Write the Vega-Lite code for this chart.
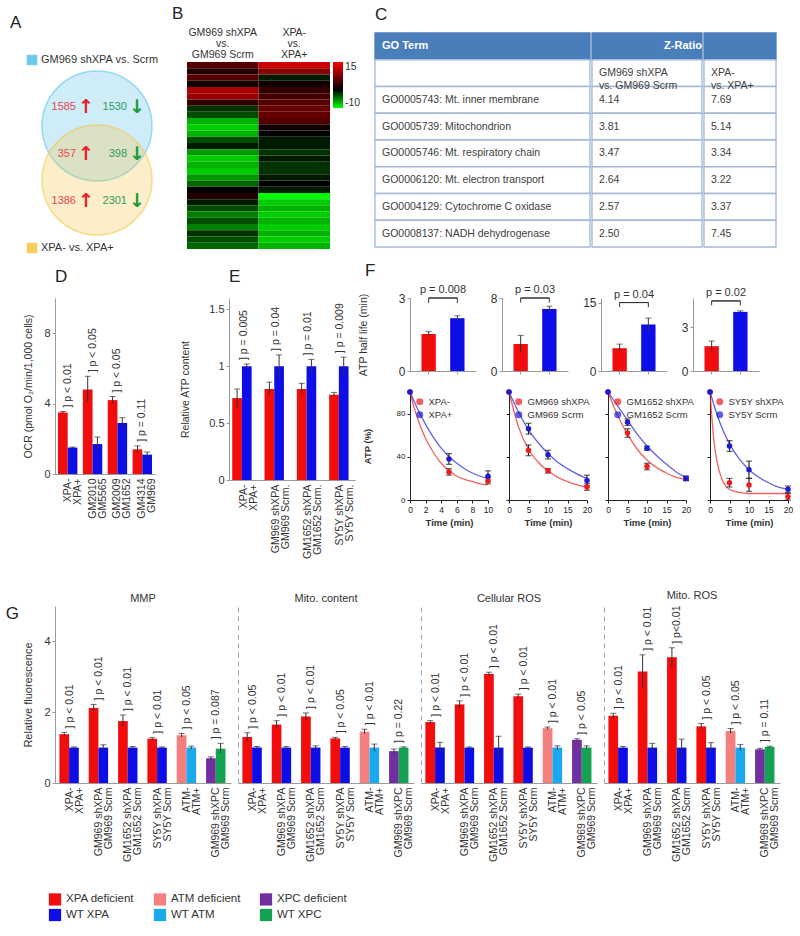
{
  "$schema": "https://vega.github.io/schema/vega-lite/v6.json",
  "background": "white",
  "padding": {"left": 5, "right": 5, "top": 5, "bottom": 5},
  "config": {
    "font": "Liberation Sans",
    "view": {"stroke": null},
    "axis": {"grid": false, "domainColor": "#9a9a9a", "tickColor": "#9a9a9a", "labelColor": "#333333", "titleColor": "#333333", "labelFontSize": 10, "titleFontSize": 10.5, "titleFontWeight": "normal", "tickSize": 3, "labelPadding": 2, "titlePadding": 4},
    "title": {"fontSize": 17, "fontWeight": "normal", "anchor": "start", "frame": "group", "color": "#222222", "offset": 4},
    "legend": {"labelColor": "#333333"},
    "text": {"color": "#333333"}
  },
  "datasets": {
    "venn": [
      {"kind": "circle", "set": "GM969 shXPA vs. Scrm"},
      {"kind": "circle", "set": "XPA- vs. XPA+"},
      {"kind": "key", "set": "GM969 shXPA vs. Scrm", "row": "key1"},
      {"kind": "key", "set": "XPA- vs. XPA+", "row": "key2"},
      {"kind": "count", "row": "GM969 shXPA only", "dir": "up", "n": 1585},
      {"kind": "count", "row": "GM969 shXPA only", "dir": "down", "n": 1530},
      {"kind": "count", "row": "Both", "dir": "up", "n": 357},
      {"kind": "count", "row": "Both", "dir": "down", "n": 398},
      {"kind": "count", "row": "XPA- only", "dir": "up", "n": 1386},
      {"kind": "count", "row": "XPA- only", "dir": "down", "n": 2301}
    ],
    "heat": [
      {"cmp": "GM969 shXPA|vs.|GM969 Scrm", "row": 1, "z": 5}, {"cmp": "GM969 shXPA|vs.|GM969 Scrm", "row": 2, "z": 2},
      {"cmp": "GM969 shXPA|vs.|GM969 Scrm", "row": 3, "z": 5}, {"cmp": "GM969 shXPA|vs.|GM969 Scrm", "row": 4, "z": 1},
      {"cmp": "GM969 shXPA|vs.|GM969 Scrm", "row": 5, "z": 10}, {"cmp": "GM969 shXPA|vs.|GM969 Scrm", "row": 6, "z": 9},
      {"cmp": "GM969 shXPA|vs.|GM969 Scrm", "row": 7, "z": 3}, {"cmp": "GM969 shXPA|vs.|GM969 Scrm", "row": 8, "z": -2},
      {"cmp": "GM969 shXPA|vs.|GM969 Scrm", "row": 9, "z": -3}, {"cmp": "GM969 shXPA|vs.|GM969 Scrm", "row": 10, "z": -7},
      {"cmp": "GM969 shXPA|vs.|GM969 Scrm", "row": 11, "z": -8}, {"cmp": "GM969 shXPA|vs.|GM969 Scrm", "row": 12, "z": -7},
      {"cmp": "GM969 shXPA|vs.|GM969 Scrm", "row": 13, "z": -3}, {"cmp": "GM969 shXPA|vs.|GM969 Scrm", "row": 14, "z": -1},
      {"cmp": "GM969 shXPA|vs.|GM969 Scrm", "row": 15, "z": -6}, {"cmp": "GM969 shXPA|vs.|GM969 Scrm", "row": 16, "z": -8},
      {"cmp": "GM969 shXPA|vs.|GM969 Scrm", "row": 17, "z": -7}, {"cmp": "GM969 shXPA|vs.|GM969 Scrm", "row": 18, "z": -8},
      {"cmp": "GM969 shXPA|vs.|GM969 Scrm", "row": 19, "z": -6}, {"cmp": "GM969 shXPA|vs.|GM969 Scrm", "row": 20, "z": -4},
      {"cmp": "GM969 shXPA|vs.|GM969 Scrm", "row": 21, "z": 0}, {"cmp": "GM969 shXPA|vs.|GM969 Scrm", "row": 22, "z": 2},
      {"cmp": "GM969 shXPA|vs.|GM969 Scrm", "row": 23, "z": -1}, {"cmp": "GM969 shXPA|vs.|GM969 Scrm", "row": 24, "z": -3},
      {"cmp": "GM969 shXPA|vs.|GM969 Scrm", "row": 25, "z": -5}, {"cmp": "GM969 shXPA|vs.|GM969 Scrm", "row": 26, "z": -3},
      {"cmp": "GM969 shXPA|vs.|GM969 Scrm", "row": 27, "z": -5}, {"cmp": "GM969 shXPA|vs.|GM969 Scrm", "row": 28, "z": -2},
      {"cmp": "GM969 shXPA|vs.|GM969 Scrm", "row": 29, "z": -3}, {"cmp": "GM969 shXPA|vs.|GM969 Scrm", "row": 30, "z": -4},
      {"cmp": "XPA-|vs.|XPA+", "row": 1, "z": 12}, {"cmp": "XPA-|vs.|XPA+", "row": 2, "z": 8},
      {"cmp": "XPA-|vs.|XPA+", "row": 3, "z": -1}, {"cmp": "XPA-|vs.|XPA+", "row": 4, "z": 1},
      {"cmp": "XPA-|vs.|XPA+", "row": 5, "z": 3}, {"cmp": "XPA-|vs.|XPA+", "row": 6, "z": 4},
      {"cmp": "XPA-|vs.|XPA+", "row": 7, "z": 5}, {"cmp": "XPA-|vs.|XPA+", "row": 8, "z": 6},
      {"cmp": "XPA-|vs.|XPA+", "row": 9, "z": 6}, {"cmp": "XPA-|vs.|XPA+", "row": 10, "z": 5},
      {"cmp": "XPA-|vs.|XPA+", "row": 11, "z": 1}, {"cmp": "XPA-|vs.|XPA+", "row": 12, "z": 0},
      {"cmp": "XPA-|vs.|XPA+", "row": 13, "z": -1}, {"cmp": "XPA-|vs.|XPA+", "row": 14, "z": -1},
      {"cmp": "XPA-|vs.|XPA+", "row": 15, "z": -2}, {"cmp": "XPA-|vs.|XPA+", "row": 16, "z": -1},
      {"cmp": "XPA-|vs.|XPA+", "row": 17, "z": -2}, {"cmp": "XPA-|vs.|XPA+", "row": 18, "z": -2},
      {"cmp": "XPA-|vs.|XPA+", "row": 19, "z": -1}, {"cmp": "XPA-|vs.|XPA+", "row": 20, "z": 0},
      {"cmp": "XPA-|vs.|XPA+", "row": 21, "z": -1}, {"cmp": "XPA-|vs.|XPA+", "row": 22, "z": -10},
      {"cmp": "XPA-|vs.|XPA+", "row": 23, "z": -8}, {"cmp": "XPA-|vs.|XPA+", "row": 24, "z": -7},
      {"cmp": "XPA-|vs.|XPA+", "row": 25, "z": -8}, {"cmp": "XPA-|vs.|XPA+", "row": 26, "z": -7},
      {"cmp": "XPA-|vs.|XPA+", "row": 27, "z": -8}, {"cmp": "XPA-|vs.|XPA+", "row": 28, "z": -7},
      {"cmp": "XPA-|vs.|XPA+", "row": 29, "z": -8}, {"cmp": "XPA-|vs.|XPA+", "row": 30, "z": -7}
    ],
    "tbl": [
      {"col": "c1", "row": "r0", "text": "GO Term"},
      {"col": "c1", "row": "r1", "text": ""},
      {"col": "c1", "row": "r2", "text": "GO0005743: Mt. inner membrane"},
      {"col": "c1", "row": "r3", "text": "GO0005739: Mitochondrion"},
      {"col": "c1", "row": "r4", "text": "GO0005746: Mt. respiratory chain"},
      {"col": "c1", "row": "r5", "text": "GO0006120: Mt. electron transport"},
      {"col": "c1", "row": "r6", "text": "GO0004129: Cytochrome C oxidase"},
      {"col": "c1", "row": "r7", "text": "GO0008137: NADH dehydrogenase"},
      {"col": "c2", "row": "r0", "text": "Z-Ratio"},
      {"col": "c2", "row": "r1", "text": "GM969 shXPA|vs. GM969 Scrm"},
      {"col": "c2", "row": "r2", "text": "4.14"},
      {"col": "c2", "row": "r3", "text": "3.81"},
      {"col": "c2", "row": "r4", "text": "3.47"},
      {"col": "c2", "row": "r5", "text": "2.64"},
      {"col": "c2", "row": "r6", "text": "2.57"},
      {"col": "c2", "row": "r7", "text": "2.50"},
      {"col": "c3", "row": "r0", "text": ""},
      {"col": "c3", "row": "r1", "text": "XPA-|vs. XPA+"},
      {"col": "c3", "row": "r2", "text": "7.69"},
      {"col": "c3", "row": "r3", "text": "5.14"},
      {"col": "c3", "row": "r4", "text": "3.34"},
      {"col": "c3", "row": "r5", "text": "3.22"},
      {"col": "c3", "row": "r6", "text": "3.37"},
      {"col": "c3", "row": "r7", "text": "7.45"}
    ],
    "d": [
      {"pair": "XPA-|XPA+", "m": "a", "status": "XPA deficient", "v": 3.5, "lo": 3.45, "hi": 3.55, "p": "]  p < 0.01"},
      {"pair": "XPA-|XPA+", "m": "b", "status": "WT XPA", "v": 1.5, "lo": 1.47, "hi": 1.53, "p": "]  p < 0.01"},
      {"pair": "GM2010|GM5565", "m": "a", "status": "XPA deficient", "v": 4.8, "lo": 4.1, "hi": 5.55, "p": "]  p < 0.05"},
      {"pair": "GM2010|GM5565", "m": "b", "status": "WT XPA", "v": 1.7, "lo": 1.35, "hi": 2.1, "p": "]  p < 0.05"},
      {"pair": "GM2009|GM1652", "m": "a", "status": "XPA deficient", "v": 4.2, "lo": 4.0, "hi": 4.4, "p": "]  p < 0.05"},
      {"pair": "GM2009|GM1652", "m": "b", "status": "WT XPA", "v": 2.9, "lo": 2.6, "hi": 3.2, "p": "]  p < 0.05"},
      {"pair": "GM4314|GM969", "m": "a", "status": "XPA deficient", "v": 1.4, "lo": 1.2, "hi": 1.6, "p": "]  p = 0.11"},
      {"pair": "GM4314|GM969", "m": "b", "status": "WT XPA", "v": 1.1, "lo": 0.95, "hi": 1.25, "p": "]  p = 0.11"}
    ],
    "e": [
      {"pair": "XPA-|XPA+", "m": "a", "status": "XPA deficient", "v": 0.72, "lo": 0.64, "hi": 0.8, "p": "]  p = 0.005"},
      {"pair": "XPA-|XPA+", "m": "b", "status": "WT XPA", "v": 1.0, "lo": 0.98, "hi": 1.02, "p": "]  p = 0.005"},
      {"pair": "GM969 shXPA|GM969 Scrm.", "m": "a", "status": "XPA deficient", "v": 0.8, "lo": 0.75, "hi": 0.86, "p": "]  p = 0.04"},
      {"pair": "GM969 shXPA|GM969 Scrm.", "m": "b", "status": "WT XPA", "v": 1.0, "lo": 0.9, "hi": 1.1, "p": "]  p = 0.04"},
      {"pair": "GM1652 shXPA|GM1652 Scrm.", "m": "a", "status": "XPA deficient", "v": 0.8, "lo": 0.76, "hi": 0.85, "p": "]  p = 0.01"},
      {"pair": "GM1652 shXPA|GM1652 Scrm.", "m": "b", "status": "WT XPA", "v": 1.0, "lo": 0.94, "hi": 1.06, "p": "]  p = 0.01"},
      {"pair": "SY5Y shXPA|SY5Y Scrm.", "m": "a", "status": "XPA deficient", "v": 0.75, "lo": 0.73, "hi": 0.77, "p": "]  p = 0.009"},
      {"pair": "SY5Y shXPA|SY5Y Scrm.", "m": "b", "status": "WT XPA", "v": 1.0, "lo": 0.92, "hi": 1.08, "p": "]  p = 0.009"}
    ],
    "fb": [
      {"chart": "c1", "m": "a", "status": "XPA deficient", "v": 1.52, "lo": 1.42, "hi": 1.62, "p": "p = 0.008"},
      {"chart": "c1", "m": "b", "status": "WT XPA", "v": 2.17, "lo": 2.07, "hi": 2.27, "p": "p = 0.008"},
      {"chart": "c2", "m": "a", "status": "XPA deficient", "v": 2.95, "lo": 2.05, "hi": 3.9, "p": "p = 0.03"},
      {"chart": "c2", "m": "b", "status": "WT XPA", "v": 6.8, "lo": 6.5, "hi": 7.1, "p": "p = 0.03"},
      {"chart": "c3", "m": "a", "status": "XPA deficient", "v": 5.0, "lo": 4.2, "hi": 5.9, "p": "p = 0.04"},
      {"chart": "c3", "m": "b", "status": "WT XPA", "v": 10.2, "lo": 8.8, "hi": 11.6, "p": "p = 0.04"},
      {"chart": "c4", "m": "a", "status": "XPA deficient", "v": 1.7, "lo": 1.35, "hi": 2.05, "p": "p = 0.02"},
      {"chart": "c4", "m": "b", "status": "WT XPA", "v": 4.05, "lo": 3.98, "hi": 4.12, "p": "p = 0.02"}
    ],
    "fl": [
      {"chart": "c1", "kind": "pt", "cond": "XPA-", "t": 0, "v": 100},
      {"chart": "c1", "kind": "pt", "cond": "XPA-", "t": 5, "v": 26, "lo": 23, "hi": 29},
      {"chart": "c1", "kind": "pt", "cond": "XPA-", "t": 10, "v": 18, "lo": 15, "hi": 21},
      {"chart": "c1", "kind": "pt", "cond": "XPA+", "t": 0, "v": 100},
      {"chart": "c1", "kind": "pt", "cond": "XPA+", "t": 5, "v": 38, "lo": 33, "hi": 43},
      {"chart": "c1", "kind": "pt", "cond": "XPA+", "t": 10, "v": 22, "lo": 17, "hi": 27},
      {"chart": "c1", "kind": "curve", "cond": "XPA-", "t": 0, "v": 100},
      {"chart": "c1", "kind": "curve", "cond": "XPA-", "t": 0.5, "v": 86},
      {"chart": "c1", "kind": "curve", "cond": "XPA-", "t": 1, "v": 75},
      {"chart": "c1", "kind": "curve", "cond": "XPA-", "t": 1.5, "v": 65},
      {"chart": "c1", "kind": "curve", "cond": "XPA-", "t": 2, "v": 57},
      {"chart": "c1", "kind": "curve", "cond": "XPA-", "t": 3, "v": 44},
      {"chart": "c1", "kind": "curve", "cond": "XPA-", "t": 4, "v": 34},
      {"chart": "c1", "kind": "curve", "cond": "XPA-", "t": 5, "v": 27},
      {"chart": "c1", "kind": "curve", "cond": "XPA-", "t": 6, "v": 22},
      {"chart": "c1", "kind": "curve", "cond": "XPA-", "t": 7, "v": 19},
      {"chart": "c1", "kind": "curve", "cond": "XPA-", "t": 8, "v": 17},
      {"chart": "c1", "kind": "curve", "cond": "XPA-", "t": 9, "v": 15},
      {"chart": "c1", "kind": "curve", "cond": "XPA-", "t": 10, "v": 14},
      {"chart": "c1", "kind": "curve", "cond": "XPA+", "t": 0, "v": 100},
      {"chart": "c1", "kind": "curve", "cond": "XPA+", "t": 1, "v": 84},
      {"chart": "c1", "kind": "curve", "cond": "XPA+", "t": 2, "v": 70},
      {"chart": "c1", "kind": "curve", "cond": "XPA+", "t": 3, "v": 58},
      {"chart": "c1", "kind": "curve", "cond": "XPA+", "t": 4, "v": 48},
      {"chart": "c1", "kind": "curve", "cond": "XPA+", "t": 5, "v": 40},
      {"chart": "c1", "kind": "curve", "cond": "XPA+", "t": 6, "v": 34},
      {"chart": "c1", "kind": "curve", "cond": "XPA+", "t": 7, "v": 29},
      {"chart": "c1", "kind": "curve", "cond": "XPA+", "t": 8, "v": 25},
      {"chart": "c1", "kind": "curve", "cond": "XPA+", "t": 9, "v": 22},
      {"chart": "c1", "kind": "curve", "cond": "XPA+", "t": 10, "v": 20},
      {"chart": "c2", "kind": "pt", "cond": "GM969 shXPA", "t": 0, "v": 100},
      {"chart": "c2", "kind": "pt", "cond": "GM969 shXPA", "t": 5, "v": 46, "lo": 41, "hi": 51},
      {"chart": "c2", "kind": "pt", "cond": "GM969 shXPA", "t": 10, "v": 27, "lo": 25, "hi": 29},
      {"chart": "c2", "kind": "pt", "cond": "GM969 shXPA", "t": 20, "v": 12, "lo": 9, "hi": 15},
      {"chart": "c2", "kind": "pt", "cond": "GM969 Scrm", "t": 0, "v": 100},
      {"chart": "c2", "kind": "pt", "cond": "GM969 Scrm", "t": 5, "v": 66, "lo": 61, "hi": 71},
      {"chart": "c2", "kind": "pt", "cond": "GM969 Scrm", "t": 10, "v": 42, "lo": 38, "hi": 46},
      {"chart": "c2", "kind": "pt", "cond": "GM969 Scrm", "t": 20, "v": 18, "lo": 13, "hi": 23},
      {"chart": "c2", "kind": "curve", "cond": "GM969 shXPA", "t": 0, "v": 100},
      {"chart": "c2", "kind": "curve", "cond": "GM969 shXPA", "t": 2.5, "v": 67},
      {"chart": "c2", "kind": "curve", "cond": "GM969 shXPA", "t": 5, "v": 47},
      {"chart": "c2", "kind": "curve", "cond": "GM969 shXPA", "t": 7.5, "v": 35},
      {"chart": "c2", "kind": "curve", "cond": "GM969 shXPA", "t": 10, "v": 27},
      {"chart": "c2", "kind": "curve", "cond": "GM969 shXPA", "t": 12.5, "v": 21},
      {"chart": "c2", "kind": "curve", "cond": "GM969 shXPA", "t": 15, "v": 17},
      {"chart": "c2", "kind": "curve", "cond": "GM969 shXPA", "t": 17.5, "v": 14},
      {"chart": "c2", "kind": "curve", "cond": "GM969 shXPA", "t": 20, "v": 12},
      {"chart": "c2", "kind": "curve", "cond": "GM969 Scrm", "t": 0, "v": 100},
      {"chart": "c2", "kind": "curve", "cond": "GM969 Scrm", "t": 2.5, "v": 81},
      {"chart": "c2", "kind": "curve", "cond": "GM969 Scrm", "t": 5, "v": 65},
      {"chart": "c2", "kind": "curve", "cond": "GM969 Scrm", "t": 7.5, "v": 53},
      {"chart": "c2", "kind": "curve", "cond": "GM969 Scrm", "t": 10, "v": 43},
      {"chart": "c2", "kind": "curve", "cond": "GM969 Scrm", "t": 12.5, "v": 35},
      {"chart": "c2", "kind": "curve", "cond": "GM969 Scrm", "t": 15, "v": 29},
      {"chart": "c2", "kind": "curve", "cond": "GM969 Scrm", "t": 17.5, "v": 24},
      {"chart": "c2", "kind": "curve", "cond": "GM969 Scrm", "t": 20, "v": 20},
      {"chart": "c3", "kind": "pt", "cond": "GM1652 shXPA", "t": 0, "v": 100},
      {"chart": "c3", "kind": "pt", "cond": "GM1652 shXPA", "t": 5, "v": 62, "lo": 58, "hi": 66},
      {"chart": "c3", "kind": "pt", "cond": "GM1652 shXPA", "t": 10, "v": 31, "lo": 28, "hi": 34},
      {"chart": "c3", "kind": "pt", "cond": "GM1652 shXPA", "t": 20, "v": 20, "lo": 18, "hi": 22},
      {"chart": "c3", "kind": "pt", "cond": "GM1652 Scrm", "t": 0, "v": 100},
      {"chart": "c3", "kind": "pt", "cond": "GM1652 Scrm", "t": 5, "v": 72, "lo": 69, "hi": 75},
      {"chart": "c3", "kind": "pt", "cond": "GM1652 Scrm", "t": 10, "v": 48, "lo": 46, "hi": 50},
      {"chart": "c3", "kind": "pt", "cond": "GM1652 Scrm", "t": 20, "v": 20, "lo": 18, "hi": 22},
      {"chart": "c3", "kind": "curve", "cond": "GM1652 shXPA", "t": 0, "v": 100},
      {"chart": "c3", "kind": "curve", "cond": "GM1652 shXPA", "t": 2.5, "v": 78},
      {"chart": "c3", "kind": "curve", "cond": "GM1652 shXPA", "t": 5, "v": 61},
      {"chart": "c3", "kind": "curve", "cond": "GM1652 shXPA", "t": 7.5, "v": 47},
      {"chart": "c3", "kind": "curve", "cond": "GM1652 shXPA", "t": 10, "v": 37},
      {"chart": "c3", "kind": "curve", "cond": "GM1652 shXPA", "t": 12.5, "v": 30},
      {"chart": "c3", "kind": "curve", "cond": "GM1652 shXPA", "t": 15, "v": 25},
      {"chart": "c3", "kind": "curve", "cond": "GM1652 shXPA", "t": 17.5, "v": 21},
      {"chart": "c3", "kind": "curve", "cond": "GM1652 shXPA", "t": 20, "v": 19},
      {"chart": "c3", "kind": "curve", "cond": "GM1652 Scrm", "t": 0, "v": 100},
      {"chart": "c3", "kind": "curve", "cond": "GM1652 Scrm", "t": 2.5, "v": 87},
      {"chart": "c3", "kind": "curve", "cond": "GM1652 Scrm", "t": 5, "v": 74},
      {"chart": "c3", "kind": "curve", "cond": "GM1652 Scrm", "t": 7.5, "v": 61},
      {"chart": "c3", "kind": "curve", "cond": "GM1652 Scrm", "t": 10, "v": 50},
      {"chart": "c3", "kind": "curve", "cond": "GM1652 Scrm", "t": 12.5, "v": 41},
      {"chart": "c3", "kind": "curve", "cond": "GM1652 Scrm", "t": 15, "v": 33},
      {"chart": "c3", "kind": "curve", "cond": "GM1652 Scrm", "t": 17.5, "v": 26},
      {"chart": "c3", "kind": "curve", "cond": "GM1652 Scrm", "t": 20, "v": 21},
      {"chart": "c4", "kind": "pt", "cond": "SY5Y shXPA", "t": 0, "v": 100},
      {"chart": "c4", "kind": "pt", "cond": "SY5Y shXPA", "t": 5, "v": 16, "lo": 12, "hi": 20},
      {"chart": "c4", "kind": "pt", "cond": "SY5Y shXPA", "t": 10, "v": 14, "lo": 8, "hi": 20},
      {"chart": "c4", "kind": "pt", "cond": "SY5Y shXPA", "t": 20, "v": 3, "lo": 0, "hi": 6},
      {"chart": "c4", "kind": "pt", "cond": "SY5Y Scrm", "t": 0, "v": 100},
      {"chart": "c4", "kind": "pt", "cond": "SY5Y Scrm", "t": 5, "v": 50, "lo": 45, "hi": 55},
      {"chart": "c4", "kind": "pt", "cond": "SY5Y Scrm", "t": 10, "v": 28, "lo": 20, "hi": 36},
      {"chart": "c4", "kind": "pt", "cond": "SY5Y Scrm", "t": 20, "v": 10, "lo": 7, "hi": 13},
      {"chart": "c4", "kind": "curve", "cond": "SY5Y shXPA", "t": 0, "v": 100},
      {"chart": "c4", "kind": "curve", "cond": "SY5Y shXPA", "t": 1, "v": 55},
      {"chart": "c4", "kind": "curve", "cond": "SY5Y shXPA", "t": 2, "v": 32},
      {"chart": "c4", "kind": "curve", "cond": "SY5Y shXPA", "t": 3, "v": 20},
      {"chart": "c4", "kind": "curve", "cond": "SY5Y shXPA", "t": 4, "v": 13},
      {"chart": "c4", "kind": "curve", "cond": "SY5Y shXPA", "t": 5, "v": 10},
      {"chart": "c4", "kind": "curve", "cond": "SY5Y shXPA", "t": 7.5, "v": 7},
      {"chart": "c4", "kind": "curve", "cond": "SY5Y shXPA", "t": 10, "v": 6},
      {"chart": "c4", "kind": "curve", "cond": "SY5Y shXPA", "t": 15, "v": 6},
      {"chart": "c4", "kind": "curve", "cond": "SY5Y shXPA", "t": 20, "v": 6},
      {"chart": "c4", "kind": "curve", "cond": "SY5Y Scrm", "t": 0, "v": 100},
      {"chart": "c4", "kind": "curve", "cond": "SY5Y Scrm", "t": 2.5, "v": 72},
      {"chart": "c4", "kind": "curve", "cond": "SY5Y Scrm", "t": 5, "v": 52},
      {"chart": "c4", "kind": "curve", "cond": "SY5Y Scrm", "t": 7.5, "v": 38},
      {"chart": "c4", "kind": "curve", "cond": "SY5Y Scrm", "t": 10, "v": 28},
      {"chart": "c4", "kind": "curve", "cond": "SY5Y Scrm", "t": 12.5, "v": 21},
      {"chart": "c4", "kind": "curve", "cond": "SY5Y Scrm", "t": 15, "v": 16},
      {"chart": "c4", "kind": "curve", "cond": "SY5Y Scrm", "t": 17.5, "v": 12},
      {"chart": "c4", "kind": "curve", "cond": "SY5Y Scrm", "t": 20, "v": 10}
    ],
    "g": [
      {"assay": "MMP", "pair": "XPA-|XPA+", "m": "a", "status": "XPA deficient", "v": 1.38, "lo": 1.33, "hi": 1.43, "p": "]  p < 0.01"},
      {"assay": "MMP", "pair": "XPA-|XPA+", "m": "b", "status": "WT XPA", "v": 1.0, "lo": 0.98, "hi": 1.02, "p": "]  p < 0.01"},
      {"assay": "MMP", "pair": "GM969 shXPA|GM969 Scrm", "m": "a", "status": "XPA deficient", "v": 2.12, "lo": 2.02, "hi": 2.22, "p": "]  p < 0.01"},
      {"assay": "MMP", "pair": "GM969 shXPA|GM969 Scrm", "m": "b", "status": "WT XPA", "v": 1.0, "lo": 0.92, "hi": 1.08, "p": "]  p < 0.01"},
      {"assay": "MMP", "pair": "GM1652 shXPA|GM1652 Scrm", "m": "a", "status": "XPA deficient", "v": 1.75, "lo": 1.6, "hi": 1.92, "p": "]  p < 0.01"},
      {"assay": "MMP", "pair": "GM1652 shXPA|GM1652 Scrm", "m": "b", "status": "WT XPA", "v": 1.0, "lo": 0.97, "hi": 1.03, "p": "]  p < 0.01"},
      {"assay": "MMP", "pair": "SY5Y shXPA|SY5Y Scrm", "m": "a", "status": "XPA deficient", "v": 1.25, "lo": 1.22, "hi": 1.28, "p": "]  p < 0.01"},
      {"assay": "MMP", "pair": "SY5Y shXPA|SY5Y Scrm", "m": "b", "status": "WT XPA", "v": 1.0, "lo": 0.98, "hi": 1.02, "p": "]  p < 0.01"},
      {"assay": "MMP", "pair": "ATM-|ATM+", "m": "a", "status": "ATM deficient", "v": 1.35, "lo": 1.3, "hi": 1.4, "p": "]  p < 0.05"},
      {"assay": "MMP", "pair": "ATM-|ATM+", "m": "b", "status": "WT ATM", "v": 1.0, "lo": 0.96, "hi": 1.04, "p": "]  p < 0.05"},
      {"assay": "MMP", "pair": "GM969 shXPC|GM969 Scrm", "m": "a", "status": "XPC deficient", "v": 0.7, "lo": 0.66, "hi": 0.74, "p": "]  p = 0.087"},
      {"assay": "MMP", "pair": "GM969 shXPC|GM969 Scrm", "m": "b", "status": "WT XPC", "v": 0.97, "lo": 0.85, "hi": 1.12, "p": "]  p = 0.087"},
      {"assay": "Mito. content", "pair": "XPA-|XPA+", "m": "a", "status": "XPA deficient", "v": 1.3, "lo": 1.18, "hi": 1.42, "p": "]  p < 0.05"},
      {"assay": "Mito. content", "pair": "XPA-|XPA+", "m": "b", "status": "WT XPA", "v": 1.0, "lo": 0.97, "hi": 1.03, "p": "]  p < 0.05"},
      {"assay": "Mito. content", "pair": "GM969 shXPA|GM969 Scrm", "m": "a", "status": "XPA deficient", "v": 1.65, "lo": 1.55, "hi": 1.76, "p": "]  p < 0.01"},
      {"assay": "Mito. content", "pair": "GM969 shXPA|GM969 Scrm", "m": "b", "status": "WT XPA", "v": 1.0, "lo": 0.97, "hi": 1.03, "p": "]  p < 0.01"},
      {"assay": "Mito. content", "pair": "GM1652 shXPA|GM1652 Scrm", "m": "a", "status": "XPA deficient", "v": 1.88, "lo": 1.78, "hi": 1.98, "p": "]  p < 0.01"},
      {"assay": "Mito. content", "pair": "GM1652 shXPA|GM1652 Scrm", "m": "b", "status": "WT XPA", "v": 1.0, "lo": 0.96, "hi": 1.05, "p": "]  p < 0.01"},
      {"assay": "Mito. content", "pair": "SY5Y shXPA|SY5Y Scrm", "m": "a", "status": "XPA deficient", "v": 1.26, "lo": 1.23, "hi": 1.29, "p": "]  p < 0.05"},
      {"assay": "Mito. content", "pair": "SY5Y shXPA|SY5Y Scrm", "m": "b", "status": "WT XPA", "v": 1.0, "lo": 0.97, "hi": 1.03, "p": "]  p < 0.05"},
      {"assay": "Mito. content", "pair": "ATM-|ATM+", "m": "a", "status": "ATM deficient", "v": 1.45, "lo": 1.39, "hi": 1.52, "p": "]  p < 0.01"},
      {"assay": "Mito. content", "pair": "ATM-|ATM+", "m": "b", "status": "WT ATM", "v": 1.0, "lo": 0.9, "hi": 1.1, "p": "]  p < 0.01"},
      {"assay": "Mito. content", "pair": "GM969 shXPC|GM969 Scrm", "m": "a", "status": "XPC deficient", "v": 0.9, "lo": 0.84, "hi": 0.96, "p": "]  p = 0.22"},
      {"assay": "Mito. content", "pair": "GM969 shXPC|GM969 Scrm", "m": "b", "status": "WT XPC", "v": 1.0, "lo": 0.98, "hi": 1.02, "p": "]  p = 0.22"},
      {"assay": "Cellular ROS", "pair": "XPA-|XPA+", "m": "a", "status": "XPA deficient", "v": 1.72, "lo": 1.68, "hi": 1.76, "p": "]  p < 0.01"},
      {"assay": "Cellular ROS", "pair": "XPA-|XPA+", "m": "b", "status": "WT XPA", "v": 1.0, "lo": 0.86, "hi": 1.15, "p": "]  p < 0.01"},
      {"assay": "Cellular ROS", "pair": "GM969 shXPA|GM969 Scrm", "m": "a", "status": "XPA deficient", "v": 2.22, "lo": 2.12, "hi": 2.32, "p": "]  p < 0.01"},
      {"assay": "Cellular ROS", "pair": "GM969 shXPA|GM969 Scrm", "m": "b", "status": "WT XPA", "v": 1.0, "lo": 0.98, "hi": 1.02, "p": "]  p < 0.01"},
      {"assay": "Cellular ROS", "pair": "GM1652 shXPA|GM1652 Scrm", "m": "a", "status": "XPA deficient", "v": 3.08, "lo": 3.03, "hi": 3.13, "p": "]  p < 0.01"},
      {"assay": "Cellular ROS", "pair": "GM1652 shXPA|GM1652 Scrm", "m": "b", "status": "WT XPA", "v": 1.0, "lo": 0.7, "hi": 1.32, "p": "]  p < 0.01"},
      {"assay": "Cellular ROS", "pair": "SY5Y shXPA|SY5Y Scrm", "m": "a", "status": "XPA deficient", "v": 2.45, "lo": 2.39, "hi": 2.51, "p": "]  p < 0.01"},
      {"assay": "Cellular ROS", "pair": "SY5Y shXPA|SY5Y Scrm", "m": "b", "status": "WT XPA", "v": 1.0, "lo": 0.98, "hi": 1.02, "p": "]  p < 0.01"},
      {"assay": "Cellular ROS", "pair": "ATM-|ATM+", "m": "a", "status": "ATM deficient", "v": 1.55, "lo": 1.52, "hi": 1.58, "p": "]  p < 0.01"},
      {"assay": "Cellular ROS", "pair": "ATM-|ATM+", "m": "b", "status": "WT ATM", "v": 1.0, "lo": 0.95, "hi": 1.05, "p": "]  p < 0.01"},
      {"assay": "Cellular ROS", "pair": "GM969 shXPC|GM969 Scrm", "m": "a", "status": "XPC deficient", "v": 1.22, "lo": 1.19, "hi": 1.25, "p": "]  p < 0.05"},
      {"assay": "Cellular ROS", "pair": "GM969 shXPC|GM969 Scrm", "m": "b", "status": "WT XPC", "v": 1.0, "lo": 0.95, "hi": 1.05, "p": "]  p < 0.05"},
      {"assay": "Mito. ROS", "pair": "XPA-|XPA+", "m": "a", "status": "XPA deficient", "v": 1.9, "lo": 1.83, "hi": 1.97, "p": "]  p < 0.01"},
      {"assay": "Mito. ROS", "pair": "XPA-|XPA+", "m": "b", "status": "WT XPA", "v": 1.0, "lo": 0.97, "hi": 1.03, "p": "]  p < 0.01"},
      {"assay": "Mito. ROS", "pair": "GM969 shXPA|GM969 Scrm", "m": "a", "status": "XPA deficient", "v": 3.15, "lo": 2.7, "hi": 3.62, "p": "]  p < 0.01"},
      {"assay": "Mito. ROS", "pair": "GM969 shXPA|GM969 Scrm", "m": "b", "status": "WT XPA", "v": 1.0, "lo": 0.9, "hi": 1.12, "p": "]  p < 0.01"},
      {"assay": "Mito. ROS", "pair": "GM1652 shXPA|GM1652 Scrm", "m": "a", "status": "XPA deficient", "v": 3.55, "lo": 3.28, "hi": 3.82, "p": "]  p<0.01"},
      {"assay": "Mito. ROS", "pair": "GM1652 shXPA|GM1652 Scrm", "m": "b", "status": "WT XPA", "v": 1.0, "lo": 0.76, "hi": 1.24, "p": "]  p<0.01"},
      {"assay": "Mito. ROS", "pair": "SY5Y shXPA|SY5Y Scrm", "m": "a", "status": "XPA deficient", "v": 1.6, "lo": 1.52, "hi": 1.68, "p": "]  p < 0.05"},
      {"assay": "Mito. ROS", "pair": "SY5Y shXPA|SY5Y Scrm", "m": "b", "status": "WT XPA", "v": 1.0, "lo": 0.88, "hi": 1.14, "p": "]  p < 0.05"},
      {"assay": "Mito. ROS", "pair": "ATM-|ATM+", "m": "a", "status": "ATM deficient", "v": 1.47, "lo": 1.4, "hi": 1.54, "p": "]  p < 0.05"},
      {"assay": "Mito. ROS", "pair": "ATM-|ATM+", "m": "b", "status": "WT ATM", "v": 1.0, "lo": 0.92, "hi": 1.09, "p": "]  p < 0.05"},
      {"assay": "Mito. ROS", "pair": "GM969 shXPC|GM969 Scrm", "m": "a", "status": "XPC deficient", "v": 0.95, "lo": 0.92, "hi": 0.98, "p": "]  p = 0.11"},
      {"assay": "Mito. ROS", "pair": "GM969 shXPC|GM969 Scrm", "m": "b", "status": "WT XPC", "v": 1.02, "lo": 1.0, "hi": 1.04, "p": "]  p = 0.11"}
    ]
  },
  "concat": [
    {
      "concat": [
        {
          "concat": [
            {
              "title": {"text": "A", "dx": -45, "offset": 22},
              "width": 84, "height": 190,
              "data": {"name": "venn"},
              "layer": [
                {
                  "transform": [{"filter": "datum.kind == 'circle'"}],
                  "mark": {"type": "point", "shape": "circle", "filled": true, "size": 12100, "fillOpacity": 0.3, "strokeOpacity": 0.6, "strokeWidth": 1.5},
                  "encoding": {
                    "y": {"field": "set", "type": "nominal", "scale": {"type": "point", "domain": ["GM969 shXPA vs. Scrm", "XPA- vs. XPA+"], "range": [64, 118], "padding": 0}, "axis": null},
                    "fill": {"field": "set", "type": "nominal", "scale": {"domain": ["GM969 shXPA vs. Scrm", "XPA- vs. XPA+"], "range": ["#5ec4ea", "#f4c84c"]}, "legend": null},
                    "stroke": {"field": "set", "type": "nominal", "scale": {"domain": ["GM969 shXPA vs. Scrm", "XPA- vs. XPA+"], "range": ["#5ec4ea", "#f4c84c"]}, "legend": null}
                  }
                },
                {
                  "transform": [{"filter": "datum.kind == 'key'"}],
                  "mark": {"type": "square", "size": 110, "opacity": 0.9},
                  "encoding": {
                    "x": {"field": "kind", "type": "nominal", "scale": {"type": "point", "domain": ["key", "up"], "range": [-23, 21], "padding": 0}, "axis": null},
                    "y": {"field": "row", "type": "nominal", "scale": {"type": "point", "domain": ["key1", "GM969 shXPA only", "Both", "XPA- only", "key2"], "range": [-2, 186], "padding": 0}, "axis": null},
                    "fill": {"field": "set", "type": "nominal", "scale": {"domain": ["GM969 shXPA vs. Scrm", "XPA- vs. XPA+"], "range": ["#5ec4ea", "#f4c84c"]}, "legend": null}
                  }
                },
                {
                  "transform": [{"filter": "datum.kind == 'key'"}],
                  "mark": {"type": "text", "align": "left", "dx": 9, "fontSize": 11, "color": "#333333"},
                  "encoding": {
                    "x": {"field": "kind", "type": "nominal", "scale": {"type": "point", "domain": ["key", "up"], "range": [-23, 21], "padding": 0}, "axis": null},
                    "y": {"field": "row", "type": "nominal", "scale": {"type": "point", "domain": ["key1", "GM969 shXPA only", "Both", "XPA- only", "key2"], "range": [-2, 186], "padding": 0}, "axis": null},
                    "text": {"field": "set"}
                  }
                },
                {
                  "transform": [{"filter": "datum.kind == 'count'"}],
                  "mark": {"type": "text", "align": "right", "fontSize": 11},
                  "encoding": {
                    "x": {"field": "dir", "type": "nominal", "scale": {"type": "point", "domain": ["up", "down"], "range": [21, 72], "padding": 0}, "axis": null},
                    "y": {"field": "row", "type": "nominal", "scale": {"type": "point", "domain": ["key1", "GM969 shXPA only", "Both", "XPA- only", "key2"], "range": [-2, 186], "padding": 0}, "axis": null},
                    "text": {"field": "n", "type": "nominal"},
                    "color": {"condition": {"test": "datum.dir == 'up'", "value": "#e8474f"}, "value": "#2e9e5b"}
                  }
                },
                {
                  "transform": [{"filter": "datum.kind == 'count'"}],
                  "mark": {"type": "text", "align": "center", "dx": 10, "fontSize": 19, "fontWeight": "bold", "font": "DejaVu Sans"},
                  "encoding": {
                    "x": {"field": "dir", "type": "nominal", "scale": {"type": "point", "domain": ["up", "down"], "range": [21, 72], "padding": 0}, "axis": null},
                    "y": {"field": "row", "type": "nominal", "scale": {"type": "point", "domain": ["key1", "GM969 shXPA only", "Both", "XPA- only", "key2"], "range": [-2, 186], "padding": 0}, "axis": null},
                    "text": {"condition": {"test": "datum.dir == 'up'", "value": "↑"}, "value": "↓"},
                    "color": {"condition": {"test": "datum.dir == 'up'", "value": "#e8202a"}, "value": "#199a3b"}
                  }
                }
              ],
              "resolve": {"scale": {"x": "independent", "y": "independent"}}
            },
            {
              "title": {"text": "B", "dx": -15},
              "width": 143, "height": 187,
              "data": {"name": "heat"},
              "mark": {"type": "rect"},
              "encoding": {
                "x": {"field": "cmp", "type": "nominal", "sort": ["GM969 shXPA|vs.|GM969 Scrm", "XPA-|vs.|XPA+"], "scale": {"paddingInner": 0, "paddingOuter": 0}, "axis": {"orient": "top", "title": null, "labelAngle": 0, "labelExpr": "split(datum.label, '|')", "ticks": false, "domain": false, "labelFontSize": 10.5, "labelLineHeight": 11, "labelPadding": 25}},
                "y": {"field": "row", "type": "ordinal", "axis": null, "scale": {"paddingInner": 0, "paddingOuter": 0}},
                "color": {"field": "z", "type": "quantitative", "scale": {"domain": [-10, 0, 15], "range": ["#00ff00", "#000000", "#ff0000"], "interpolate": "rgb"}, "legend": {"title": null, "orient": "right", "gradientLength": 46, "gradientThickness": 10, "values": [-10, 15], "labelExpr": "datum.value + ''", "labelFontSize": 10.5, "offset": 3, "padding": 0}}
              }
            },
            {
              "title": {"text": "C", "offset": 8},
              "concat": [
                {
                  "width": 215, "height": 185,
                  "data": {"name": "tbl"},
                  "transform": [{"filter": "datum.col == 'c1'"}],
                  "encoding": {"y": {"field": "row", "type": "nominal", "axis": null, "scale": {"paddingInner": 0, "paddingOuter": 0, "range": [-29, 185]}}},
                  "layer": [
                    {"mark": {"type": "rect", "strokeWidth": 1.3}, "encoding": {"x": {"field": "col", "type": "nominal", "axis": null, "scale": {"paddingInner": 0, "paddingOuter": 0}}, "fill": {"condition": {"test": "datum.row == 'r0'", "value": "#4a7ebb"}, "value": "#ffffff"}, "stroke": {"condition": {"test": "datum.row == 'r0'", "value": "#4a7ebb"}, "value": "#a3b8d6"}}},
                    {"transform": [{"filter": "datum.row != 'r0'"}], "mark": {"type": "text", "align": "left", "dx": 7, "fontSize": 10.5, "lineBreak": "|", "color": "#404040"}, "encoding": {"x": {"field": "col", "type": "nominal", "axis": null, "scale": {"paddingInner": 0, "paddingOuter": 0}, "bandPosition": 0}, "text": {"field": "text"}}},
                    {"transform": [{"filter": "datum.row == 'r0'"}], "mark": {"type": "text", "align": "left", "dx": 7, "fontSize": 11, "fontWeight": "bold", "color": "#ffffff"}, "encoding": {"x": {"field": "col", "type": "nominal", "axis": null, "scale": {"paddingInner": 0, "paddingOuter": 0}, "bandPosition": 0}, "text": {"field": "text"}}}
                  ]
                },
                {
                  "width": 110, "height": 185,
                  "data": {"name": "tbl"},
                  "transform": [{"filter": "datum.col == 'c2'"}],
                  "encoding": {"y": {"field": "row", "type": "nominal", "axis": null, "scale": {"paddingInner": 0, "paddingOuter": 0, "range": [-29, 185]}}},
                  "layer": [
                    {"mark": {"type": "rect", "strokeWidth": 1.3}, "encoding": {"x": {"field": "col", "type": "nominal", "axis": null, "scale": {"paddingInner": 0, "paddingOuter": 0}}, "fill": {"condition": {"test": "datum.row == 'r0'", "value": "#4a7ebb"}, "value": "#ffffff"}, "stroke": {"condition": {"test": "datum.row == 'r0'", "value": "#4a7ebb"}, "value": "#a3b8d6"}}},
                    {"transform": [{"filter": "datum.row != 'r0'"}], "mark": {"type": "text", "align": "left", "dx": 7, "fontSize": 10.5, "lineBreak": "|", "color": "#404040"}, "encoding": {"x": {"field": "col", "type": "nominal", "axis": null, "scale": {"paddingInner": 0, "paddingOuter": 0}, "bandPosition": 0}, "text": {"field": "text"}}},
                    {"transform": [{"filter": "datum.row == 'r0'"}], "mark": {"type": "text", "align": "center", "dx": 91, "fontSize": 11, "fontWeight": "bold", "color": "#ffffff"}, "encoding": {"x": {"field": "col", "type": "nominal", "axis": null, "scale": {"paddingInner": 0, "paddingOuter": 0}, "bandPosition": 0}, "text": {"field": "text"}}}
                  ]
                },
                {
                  "width": 72, "height": 185,
                  "data": {"name": "tbl"},
                  "transform": [{"filter": "datum.col == 'c3'"}],
                  "encoding": {"y": {"field": "row", "type": "nominal", "axis": null, "scale": {"paddingInner": 0, "paddingOuter": 0, "range": [-29, 185]}}},
                  "layer": [
                    {"mark": {"type": "rect", "strokeWidth": 1.3}, "encoding": {"x": {"field": "col", "type": "nominal", "axis": null, "scale": {"paddingInner": 0, "paddingOuter": 0}}, "fill": {"condition": {"test": "datum.row == 'r0'", "value": "#4a7ebb"}, "value": "#ffffff"}, "stroke": {"condition": {"test": "datum.row == 'r0'", "value": "#4a7ebb"}, "value": "#a3b8d6"}}},
                    {"transform": [{"filter": "datum.row != 'r0'"}], "mark": {"type": "text", "align": "left", "dx": 7, "fontSize": 10.5, "lineBreak": "|", "color": "#404040"}, "encoding": {"x": {"field": "col", "type": "nominal", "axis": null, "scale": {"paddingInner": 0, "paddingOuter": 0}, "bandPosition": 0}, "text": {"field": "text"}}}
                  ]
                }
              ],
              "columns": 3,
              "spacing": 0
            }
          ],
          "columns": 3,
          "spacing": 13,
          "resolve": {"scale": {"color": "independent", "fill": "independent", "stroke": "independent"}}
        },
        {
          "concat": [
            {
              "concat": [
                {
                  "title": {"text": "D", "offset": 12},
                  "width": 100, "height": 176,
                  "data": {"name": "d"},
                  "encoding": {
                    "x": {"field": "pair", "type": "nominal", "sort": ["XPA-|XPA+", "GM2010|GM5565", "GM2009|GM1652", "GM4314|GM969"], "scale": {"paddingInner": 0.22, "paddingOuter": 0.12}, "axis": {"title": null, "labelAngle": 270, "labelExpr": "split(datum.label, '|')", "ticks": false, "labelFontSize": 10.5, "labelLineHeight": 10, "labelPadding": 4}}
                  },
                  "layer": [
                    {"mark": {"type": "bar"}, "encoding": {"xOffset": {"field": "m", "type": "nominal"}, "y": {"field": "v", "type": "quantitative", "title": "OCR (pmol O₂/min/1,000 cells)", "scale": {"domain": [0, 10]}, "axis": {"values": [0, 2, 4, 6, 8, 10], "labelFontSize": 11, "titlePadding": 10}}, "color": {"field": "status", "type": "nominal", "scale": {"domain": ["XPA deficient", "WT XPA"], "range": ["#f20d0d", "#0d0de8"]}, "legend": null}}},
                    {"mark": {"type": "rule", "color": "#333333", "strokeWidth": 1}, "encoding": {"xOffset": {"field": "m", "type": "nominal"}, "y": {"field": "lo", "type": "quantitative", "title": "OCR (pmol O₂/min/1,000 cells)"}, "y2": {"field": "hi"}}},
                    {"mark": {"type": "tick", "color": "#333333", "orient": "horizontal", "size": 6, "thickness": 1}, "encoding": {"xOffset": {"field": "m", "type": "nominal"}, "y": {"field": "hi", "type": "quantitative", "title": "OCR (pmol O₂/min/1,000 cells)"}}},
                    {"transform": [{"aggregate": [{"op": "max", "field": "hi", "as": "top"}], "groupby": ["pair", "p"]}], "mark": {"type": "text", "angle": 270, "align": "left", "baseline": "middle", "dx": 4, "fontSize": 10.5}, "encoding": {"y": {"field": "top", "type": "quantitative", "title": "OCR (pmol O₂/min/1,000 cells)"}, "text": {"field": "p"}}}
                  ]
                },
                {
                  "title": {"text": "E", "offset": 12},
                  "width": 126, "height": 182,
                  "data": {"name": "e"},
                  "encoding": {
                    "x": {"field": "pair", "type": "nominal", "sort": ["XPA-|XPA+", "GM969 shXPA|GM969 Scrm.", "GM1652 shXPA|GM1652 Scrm.", "SY5Y shXPA|SY5Y Scrm."], "scale": {"paddingInner": 0.3, "paddingOuter": 0.1}, "axis": {"title": null, "labelAngle": 270, "labelExpr": "split(datum.label, '|')", "ticks": false, "labelFontSize": 10.5, "labelLineHeight": 10, "labelPadding": 4}}
                  },
                  "layer": [
                    {"mark": {"type": "bar"}, "encoding": {"xOffset": {"field": "m", "type": "nominal"}, "y": {"field": "v", "type": "quantitative", "title": "Relative ATP content", "scale": {"domain": [0, 1.5]}, "axis": {"values": [0, 0.5, 1, 1.5], "format": "~g", "labelFontSize": 11, "titlePadding": 18}}, "color": {"field": "status", "type": "nominal", "scale": {"domain": ["XPA deficient", "WT XPA"], "range": ["#f20d0d", "#0d0de8"]}, "legend": null}}},
                    {"mark": {"type": "rule", "color": "#333333", "strokeWidth": 1}, "encoding": {"xOffset": {"field": "m", "type": "nominal"}, "y": {"field": "lo", "type": "quantitative", "title": "Relative ATP content"}, "y2": {"field": "hi"}}},
                    {"mark": {"type": "tick", "color": "#333333", "orient": "horizontal", "size": 6, "thickness": 1}, "encoding": {"xOffset": {"field": "m", "type": "nominal"}, "y": {"field": "hi", "type": "quantitative", "title": "Relative ATP content"}}},
                    {"transform": [{"aggregate": [{"op": "max", "field": "hi", "as": "top"}], "groupby": ["pair", "p"]}], "mark": {"type": "text", "angle": 270, "align": "left", "baseline": "middle", "dx": 4, "fontSize": 10.5}, "encoding": {"y": {"field": "top", "type": "quantitative", "title": "Relative ATP content"}, "text": {"field": "p"}}}
                  ]
                }
              ],
              "columns": 2,
              "spacing": 22
            },
            {
              "title": {"text": "F", "dx": -45},
              "vconcat": [
                {
                  "hconcat": [
                    {
                      "width": 66, "height": 73,
                      "data": {"name": "fb"},
                      "transform": [{"filter": "datum.chart == 'c1'"}],
                      "encoding": {"x": {"field": "m", "type": "nominal", "scale": {"paddingInner": 0.5, "paddingOuter": 0.4}, "axis": {"labels": false, "ticks": true, "title": null}}},
                      "layer": [
                        {"mark": {"type": "bar"}, "encoding": {"y": {"field": "v", "type": "quantitative", "title": "ATP half life (min)", "scale": {"domain": [0, 3]}, "axis": {"values": [0, 1, 2, 3], "labelFontSize": 12, "titlePadding": 30}}, "color": {"field": "status", "type": "nominal", "scale": {"domain": ["XPA deficient", "WT XPA"], "range": ["#f20d0d", "#0d0de8"]}, "legend": null}}},
                        {"mark": {"type": "rule", "color": "#333333"}, "encoding": {"y": {"field": "lo", "type": "quantitative", "title": "ATP half life (min)"}, "y2": {"field": "hi"}}},
                        {"mark": {"type": "tick", "color": "#333333", "orient": "horizontal", "size": 6, "thickness": 1}, "encoding": {"y": {"field": "hi", "type": "quantitative", "title": "ATP half life (min)"}}},
                        {"mark": {"type": "rule", "color": "#333333"}, "encoding": {"x": {"datum": "a"}, "x2": {"datum": "b"}, "y": {"datum": 3, "type": "quantitative", "title": "ATP half life (min)"}}},
                        {"mark": {"type": "rule", "color": "#333333"}, "encoding": {"y": {"datum": 3, "type": "quantitative", "title": "ATP half life (min)"}, "y2": {"datum": 2.8}}},
                        {"transform": [{"filter": "datum.m == 'a'"}], "mark": {"type": "text", "baseline": "bottom", "dy": -3, "fontSize": 11}, "encoding": {"x": null, "y": {"datum": 3, "type": "quantitative", "title": "ATP half life (min)"}, "text": {"field": "p"}}}
                      ]
                    },
                    {
                      "width": 66, "height": 73,
                      "data": {"name": "fb"},
                      "transform": [{"filter": "datum.chart == 'c2'"}],
                      "encoding": {"x": {"field": "m", "type": "nominal", "scale": {"paddingInner": 0.5, "paddingOuter": 0.4}, "axis": {"labels": false, "ticks": true, "title": null}}},
                      "layer": [
                        {"mark": {"type": "bar"}, "encoding": {"y": {"field": "v", "type": "quantitative", "title": null, "scale": {"domain": [0, 8]}, "axis": {"values": [0, 2, 4, 6, 8], "labelFontSize": 12}}, "color": {"field": "status", "type": "nominal", "scale": {"domain": ["XPA deficient", "WT XPA"], "range": ["#f20d0d", "#0d0de8"]}, "legend": null}}},
                        {"mark": {"type": "rule", "color": "#333333"}, "encoding": {"y": {"field": "lo", "type": "quantitative", "title": null}, "y2": {"field": "hi"}}},
                        {"mark": {"type": "tick", "color": "#333333", "orient": "horizontal", "size": 6, "thickness": 1}, "encoding": {"y": {"field": "hi", "type": "quantitative", "title": null}}},
                        {"mark": {"type": "rule", "color": "#333333"}, "encoding": {"x": {"datum": "a"}, "x2": {"datum": "b"}, "y": {"datum": 8, "type": "quantitative", "title": null}}},
                        {"mark": {"type": "rule", "color": "#333333"}, "encoding": {"y": {"datum": 8, "type": "quantitative", "title": null}, "y2": {"datum": 7.5}}},
                        {"transform": [{"filter": "datum.m == 'a'"}], "mark": {"type": "text", "baseline": "bottom", "dy": -3, "fontSize": 11}, "encoding": {"x": null, "y": {"datum": 8, "type": "quantitative", "title": null}, "text": {"field": "p"}}}
                      ]
                    },
                    {
                      "width": 66, "height": 73,
                      "data": {"name": "fb"},
                      "transform": [{"filter": "datum.chart == 'c3'"}],
                      "encoding": {"x": {"field": "m", "type": "nominal", "scale": {"paddingInner": 0.5, "paddingOuter": 0.4}, "axis": {"labels": false, "ticks": true, "title": null}}},
                      "layer": [
                        {"mark": {"type": "bar"}, "encoding": {"y": {"field": "v", "type": "quantitative", "title": null, "scale": {"domain": [0, 15]}, "axis": {"values": [0, 5, 10, 15], "labelFontSize": 12}}, "color": {"field": "status", "type": "nominal", "scale": {"domain": ["XPA deficient", "WT XPA"], "range": ["#f20d0d", "#0d0de8"]}, "legend": null}}},
                        {"mark": {"type": "rule", "color": "#333333"}, "encoding": {"y": {"field": "lo", "type": "quantitative", "title": null}, "y2": {"field": "hi"}}},
                        {"mark": {"type": "tick", "color": "#333333", "orient": "horizontal", "size": 6, "thickness": 1}, "encoding": {"y": {"field": "hi", "type": "quantitative", "title": null}}},
                        {"mark": {"type": "rule", "color": "#333333"}, "encoding": {"x": {"datum": "a"}, "x2": {"datum": "b"}, "y": {"datum": 15, "type": "quantitative", "title": null}}},
                        {"mark": {"type": "rule", "color": "#333333"}, "encoding": {"y": {"datum": 15, "type": "quantitative", "title": null}, "y2": {"datum": 14}}},
                        {"transform": [{"filter": "datum.m == 'a'"}], "mark": {"type": "text", "baseline": "bottom", "dy": -3, "fontSize": 11}, "encoding": {"x": null, "y": {"datum": 15, "type": "quantitative", "title": null}, "text": {"field": "p"}}}
                      ]
                    },
                    {
                      "width": 66, "height": 73,
                      "data": {"name": "fb"},
                      "transform": [{"filter": "datum.chart == 'c4'"}],
                      "encoding": {"x": {"field": "m", "type": "nominal", "scale": {"paddingInner": 0.5, "paddingOuter": 0.4}, "axis": {"labels": false, "ticks": true, "title": null}}},
                      "layer": [
                        {"mark": {"type": "bar"}, "encoding": {"y": {"field": "v", "type": "quantitative", "title": null, "scale": {"domain": [0, 4.8]}, "axis": {"values": [0, 3], "labelFontSize": 12}}, "color": {"field": "status", "type": "nominal", "scale": {"domain": ["XPA deficient", "WT XPA"], "range": ["#f20d0d", "#0d0de8"]}, "legend": null}}},
                        {"mark": {"type": "rule", "color": "#333333"}, "encoding": {"y": {"field": "lo", "type": "quantitative", "title": null}, "y2": {"field": "hi"}}},
                        {"mark": {"type": "tick", "color": "#333333", "orient": "horizontal", "size": 6, "thickness": 1}, "encoding": {"y": {"field": "hi", "type": "quantitative", "title": null}}},
                        {"mark": {"type": "rule", "color": "#333333"}, "encoding": {"x": {"datum": "a"}, "x2": {"datum": "b"}, "y": {"datum": 4.8, "type": "quantitative", "title": null}}},
                        {"mark": {"type": "rule", "color": "#333333"}, "encoding": {"y": {"datum": 4.8, "type": "quantitative", "title": null}, "y2": {"datum": 4.5}}},
                        {"transform": [{"filter": "datum.m == 'a'"}], "mark": {"type": "text", "baseline": "bottom", "dy": -3, "fontSize": 11}, "encoding": {"x": null, "y": {"datum": 4.8, "type": "quantitative", "title": null}, "text": {"field": "p"}}}
                      ]
                    }
                  ],
                  "spacing": 14
                },
                {
                  "hconcat": [
                    {
                      "width": 78, "height": 108,
                      "data": {"name": "fl"},
                      "transform": [{"filter": "datum.chart == 'c1'"}],
                      "encoding": {
                        "x": {"field": "t", "type": "quantitative", "scale": {"domain": [0, 10], "nice": false}, "axis": {"values": [0, 2, 4, 6, 8, 10], "title": "Time (min)", "labelFontSize": 8.5, "titleFontSize": 9.5, "titleFontWeight": "bold", "domainColor": "#222222", "tickColor": "#222222", "labelColor": "#222222", "labelFlush": false}},
                        "color": {"field": "cond", "type": "nominal", "scale": {"domain": ["XPA-", "XPA+"], "range": ["#ee1c1c", "#1c1cd8"]}, "legend": {"title": null, "orient": "top-left", "offset": 5, "labelFontSize": 9.5, "symbolSize": 30, "symbolType": "circle", "rowPadding": 1, "padding": 0}}
                      },
                      "layer": [
                        {"transform": [{"filter": "datum.kind == 'curve'"}], "mark": {"type": "line", "strokeWidth": 1.3, "interpolate": "monotone", "opacity": 0.7}, "encoding": {"y": {"field": "v", "type": "quantitative", "title": "ATP (%)", "scale": {"domain": [0, 100]}, "axis": {"values": [0, 20, 40, 60, 80, 100], "labelFontSize": 8, "titleFontSize": 9.5, "titleFontWeight": "bold", "domainColor": "#222222", "tickColor": "#222222", "labelColor": "#222222", "titlePadding": 24}}}},
                        {"transform": [{"filter": "datum.kind == 'pt'"}], "mark": {"type": "rule", "strokeWidth": 1.2}, "encoding": {"y": {"field": "lo", "type": "quantitative", "title": "ATP (%)"}, "y2": {"field": "hi"}, "color": {"value": "#222222"}}},
                        {"transform": [{"filter": "datum.kind == 'pt'"}], "mark": {"type": "tick", "orient": "horizontal", "size": 6, "thickness": 1.2}, "encoding": {"y": {"field": "lo", "type": "quantitative", "title": "ATP (%)"}, "color": {"value": "#222222"}}},
                        {"transform": [{"filter": "datum.kind == 'pt'"}], "mark": {"type": "tick", "orient": "horizontal", "size": 6, "thickness": 1.2}, "encoding": {"y": {"field": "hi", "type": "quantitative", "title": "ATP (%)"}, "color": {"value": "#222222"}}},
                        {"transform": [{"filter": "datum.kind == 'pt'"}], "mark": {"type": "point", "filled": true, "size": 30, "opacity": 1}, "encoding": {"y": {"field": "v", "type": "quantitative", "title": "ATP (%)"}}}
                      ]
                    },
                    {
                      "width": 78, "height": 108,
                      "data": {"name": "fl"},
                      "transform": [{"filter": "datum.chart == 'c2'"}],
                      "encoding": {
                        "x": {"field": "t", "type": "quantitative", "scale": {"domain": [0, 20], "nice": false}, "axis": {"values": [0, 5, 10, 15, 20], "title": "Time (min)", "labelFontSize": 8.5, "titleFontSize": 9.5, "titleFontWeight": "bold", "domainColor": "#222222", "tickColor": "#222222", "labelColor": "#222222", "labelFlush": false}},
                        "color": {"field": "cond", "type": "nominal", "scale": {"domain": ["GM969 shXPA", "GM969 Scrm"], "range": ["#ee1c1c", "#1c1cd8"]}, "legend": {"title": null, "orient": "top-left", "offset": 5, "labelFontSize": 9.5, "symbolSize": 30, "symbolType": "circle", "rowPadding": 1, "padding": 0}}
                      },
                      "layer": [
                        {"transform": [{"filter": "datum.kind == 'curve'"}], "mark": {"type": "line", "strokeWidth": 1.3, "interpolate": "monotone", "opacity": 0.7}, "encoding": {"y": {"field": "v", "type": "quantitative", "title": null, "scale": {"domain": [0, 100]}, "axis": {"values": [0, 20, 40, 60, 80, 100], "labels": false, "domainColor": "#222222", "tickColor": "#222222"}}}},
                        {"transform": [{"filter": "datum.kind == 'pt'"}], "mark": {"type": "rule", "strokeWidth": 1.2}, "encoding": {"y": {"field": "lo", "type": "quantitative", "title": null}, "y2": {"field": "hi"}, "color": {"value": "#222222"}}},
                        {"transform": [{"filter": "datum.kind == 'pt'"}], "mark": {"type": "tick", "orient": "horizontal", "size": 6, "thickness": 1.2}, "encoding": {"y": {"field": "lo", "type": "quantitative", "title": null}, "color": {"value": "#222222"}}},
                        {"transform": [{"filter": "datum.kind == 'pt'"}], "mark": {"type": "tick", "orient": "horizontal", "size": 6, "thickness": 1.2}, "encoding": {"y": {"field": "hi", "type": "quantitative", "title": null}, "color": {"value": "#222222"}}},
                        {"transform": [{"filter": "datum.kind == 'pt'"}], "mark": {"type": "point", "filled": true, "size": 30, "opacity": 1}, "encoding": {"y": {"field": "v", "type": "quantitative", "title": null}}}
                      ]
                    },
                    {
                      "width": 78, "height": 108,
                      "data": {"name": "fl"},
                      "transform": [{"filter": "datum.chart == 'c3'"}],
                      "encoding": {
                        "x": {"field": "t", "type": "quantitative", "scale": {"domain": [0, 20], "nice": false}, "axis": {"values": [0, 5, 10, 15, 20], "title": "Time (min)", "labelFontSize": 8.5, "titleFontSize": 9.5, "titleFontWeight": "bold", "domainColor": "#222222", "tickColor": "#222222", "labelColor": "#222222", "labelFlush": false}},
                        "color": {"field": "cond", "type": "nominal", "scale": {"domain": ["GM1652 shXPA", "GM1652 Scrm"], "range": ["#ee1c1c", "#1c1cd8"]}, "legend": {"title": null, "orient": "top-left", "offset": 5, "labelFontSize": 9.5, "symbolSize": 30, "symbolType": "circle", "rowPadding": 1, "padding": 0}}
                      },
                      "layer": [
                        {"transform": [{"filter": "datum.kind == 'curve'"}], "mark": {"type": "line", "strokeWidth": 1.3, "interpolate": "monotone", "opacity": 0.7}, "encoding": {"y": {"field": "v", "type": "quantitative", "title": null, "scale": {"domain": [0, 100]}, "axis": {"values": [0, 20, 40, 60, 80, 100], "labels": false, "domainColor": "#222222", "tickColor": "#222222"}}}},
                        {"transform": [{"filter": "datum.kind == 'pt'"}], "mark": {"type": "rule", "strokeWidth": 1.2}, "encoding": {"y": {"field": "lo", "type": "quantitative", "title": null}, "y2": {"field": "hi"}, "color": {"value": "#222222"}}},
                        {"transform": [{"filter": "datum.kind == 'pt'"}], "mark": {"type": "tick", "orient": "horizontal", "size": 6, "thickness": 1.2}, "encoding": {"y": {"field": "lo", "type": "quantitative", "title": null}, "color": {"value": "#222222"}}},
                        {"transform": [{"filter": "datum.kind == 'pt'"}], "mark": {"type": "tick", "orient": "horizontal", "size": 6, "thickness": 1.2}, "encoding": {"y": {"field": "hi", "type": "quantitative", "title": null}, "color": {"value": "#222222"}}},
                        {"transform": [{"filter": "datum.kind == 'pt'"}], "mark": {"type": "point", "filled": true, "size": 30, "opacity": 1}, "encoding": {"y": {"field": "v", "type": "quantitative", "title": null}}}
                      ]
                    },
                    {
                      "width": 78, "height": 108,
                      "data": {"name": "fl"},
                      "transform": [{"filter": "datum.chart == 'c4'"}],
                      "encoding": {
                        "x": {"field": "t", "type": "quantitative", "scale": {"domain": [0, 20], "nice": false}, "axis": {"values": [0, 5, 10, 15, 20], "title": "Time (min)", "labelFontSize": 8.5, "titleFontSize": 9.5, "titleFontWeight": "bold", "domainColor": "#222222", "tickColor": "#222222", "labelColor": "#222222", "labelFlush": false}},
                        "color": {"field": "cond", "type": "nominal", "scale": {"domain": ["SY5Y shXPA", "SY5Y Scrm"], "range": ["#ee1c1c", "#1c1cd8"]}, "legend": {"title": null, "orient": "top-left", "offset": 5, "labelFontSize": 9.5, "symbolSize": 30, "symbolType": "circle", "rowPadding": 1, "padding": 0}}
                      },
                      "layer": [
                        {"transform": [{"filter": "datum.kind == 'curve'"}], "mark": {"type": "line", "strokeWidth": 1.3, "interpolate": "monotone", "opacity": 0.7}, "encoding": {"y": {"field": "v", "type": "quantitative", "title": null, "scale": {"domain": [0, 100]}, "axis": {"values": [0, 20, 40, 60, 80, 100], "labels": false, "domainColor": "#222222", "tickColor": "#222222"}}}},
                        {"transform": [{"filter": "datum.kind == 'pt'"}], "mark": {"type": "rule", "strokeWidth": 1.2}, "encoding": {"y": {"field": "lo", "type": "quantitative", "title": null}, "y2": {"field": "hi"}, "color": {"value": "#222222"}}},
                        {"transform": [{"filter": "datum.kind == 'pt'"}], "mark": {"type": "tick", "orient": "horizontal", "size": 6, "thickness": 1.2}, "encoding": {"y": {"field": "lo", "type": "quantitative", "title": null}, "color": {"value": "#222222"}}},
                        {"transform": [{"filter": "datum.kind == 'pt'"}], "mark": {"type": "tick", "orient": "horizontal", "size": 6, "thickness": 1.2}, "encoding": {"y": {"field": "hi", "type": "quantitative", "title": null}, "color": {"value": "#222222"}}},
                        {"transform": [{"filter": "datum.kind == 'pt'"}], "mark": {"type": "point", "filled": true, "size": 30, "opacity": 1}, "encoding": {"y": {"field": "v", "type": "quantitative", "title": null}}}
                      ]
                    }
                  ],
                  "spacing": 12,
                  "resolve": {"scale": {"color": "independent"}, "legend": {"color": "independent"}}
                }
              ],
              "spacing": 12,
              "resolve": {"scale": {"color": "independent"}, "legend": {"color": "independent"}}
            }
          ],
          "columns": 2,
          "spacing": 2,
          "resolve": {"scale": {"color": "independent"}, "legend": {"color": "independent"}}
        }
      ],
      "columns": 1,
      "spacing": 8,
      "resolve": {"scale": {"color": "independent"}, "legend": {"color": "independent"}}
    },
    {
      "title": {"text": "G", "orient": "left", "anchor": "start", "angle": 0, "offset": 4},
      "hconcat": [
        {
          "title": {"text": "MMP", "anchor": "middle", "fontSize": 11, "offset": 2, "color": "#333333"},
          "width": 176, "height": 177,
          "data": {"name": "g"},
          "transform": [{"filter": "datum.assay == 'MMP'"}],
          "encoding": {"x": {"field": "pair", "type": "nominal", "sort": ["XPA-|XPA+", "GM969 shXPA|GM969 Scrm", "GM1652 shXPA|GM1652 Scrm", "SY5Y shXPA|SY5Y Scrm", "ATM-|ATM+", "GM969 shXPC|GM969 Scrm"], "scale": {"paddingInner": 0.3, "paddingOuter": 0.15}, "axis": {"title": null, "labelAngle": 270, "labelExpr": "split(datum.label, '|')", "ticks": false, "labelFontSize": 10.5, "labelLineHeight": 10, "labelPadding": 4}}},
          "layer": [
            {"mark": {"type": "bar"}, "encoding": {"xOffset": {"field": "m", "type": "nominal"}, "y": {"field": "v", "type": "quantitative", "title": "Relative fluorescence", "scale": {"domain": [0, 5]}, "axis": {"values": [0, 1, 2, 3, 4, 5], "labelFontSize": 11, "titleFontSize": 11, "titlePadding": 10}}, "color": {"field": "status", "type": "nominal", "scale": {"domain": ["XPA deficient", "ATM deficient", "XPC deficient", "WT XPA", "WT ATM", "WT XPC"], "range": ["#f20d0d", "#f47f7f", "#7030a0", "#0d0de8", "#1aa9ec", "#13a24f"]}, "legend": {"title": null, "orient": "none", "direction": "horizontal", "legendX": -7, "legendY": 286, "columns": 3, "symbolType": "square", "symbolSize": 150, "labelFontSize": 11.5, "columnPadding": 18, "rowPadding": 2}}}},
            {"mark": {"type": "rule", "color": "#333333", "strokeWidth": 1}, "encoding": {"xOffset": {"field": "m", "type": "nominal"}, "y": {"field": "lo", "type": "quantitative", "title": "Relative fluorescence"}, "y2": {"field": "hi"}}},
            {"mark": {"type": "tick", "color": "#333333", "orient": "horizontal", "size": 6, "thickness": 1}, "encoding": {"xOffset": {"field": "m", "type": "nominal"}, "y": {"field": "hi", "type": "quantitative", "title": "Relative fluorescence"}}},
            {"transform": [{"aggregate": [{"op": "max", "field": "hi", "as": "top"}], "groupby": ["pair", "p"]}], "mark": {"type": "text", "angle": 270, "align": "left", "baseline": "middle", "dx": 4, "fontSize": 10.5}, "encoding": {"y": {"field": "top", "type": "quantitative", "title": "Relative fluorescence"}, "text": {"field": "p"}}}
          ]
        },
        {
          "title": {"text": "Mito. content", "anchor": "middle", "fontSize": 11, "offset": 2, "color": "#333333"},
          "width": 176, "height": 177,
          "data": {"name": "g"},
          "transform": [{"filter": "datum.assay == 'Mito. content'"}],
          "encoding": {"x": {"field": "pair", "type": "nominal", "sort": ["XPA-|XPA+", "GM969 shXPA|GM969 Scrm", "GM1652 shXPA|GM1652 Scrm", "SY5Y shXPA|SY5Y Scrm", "ATM-|ATM+", "GM969 shXPC|GM969 Scrm"], "scale": {"paddingInner": 0.3, "paddingOuter": 0.15}, "axis": {"title": null, "labelAngle": 270, "labelExpr": "split(datum.label, '|')", "ticks": false, "labelFontSize": 10.5, "labelLineHeight": 10, "labelPadding": 4}}},
          "layer": [
            {"mark": {"type": "bar"}, "encoding": {"xOffset": {"field": "m", "type": "nominal"}, "y": {"field": "v", "type": "quantitative", "title": null, "scale": {"domain": [0, 5]}, "axis": {"labels": false, "ticks": false, "domainDash": [5, 4], "domainColor": "#9aa6b2"}}, "color": {"field": "status", "type": "nominal", "scale": {"domain": ["XPA deficient", "ATM deficient", "XPC deficient", "WT XPA", "WT ATM", "WT XPC"], "range": ["#f20d0d", "#f47f7f", "#7030a0", "#0d0de8", "#1aa9ec", "#13a24f"]}, "legend": {"title": null, "orient": "none", "direction": "horizontal", "legendX": -7, "legendY": 286, "columns": 3, "symbolType": "square", "symbolSize": 150, "labelFontSize": 11.5, "columnPadding": 18, "rowPadding": 2}}}},
            {"mark": {"type": "rule", "color": "#333333", "strokeWidth": 1}, "encoding": {"xOffset": {"field": "m", "type": "nominal"}, "y": {"field": "lo", "type": "quantitative", "title": null}, "y2": {"field": "hi"}}},
            {"mark": {"type": "tick", "color": "#333333", "orient": "horizontal", "size": 6, "thickness": 1}, "encoding": {"xOffset": {"field": "m", "type": "nominal"}, "y": {"field": "hi", "type": "quantitative", "title": null}}},
            {"transform": [{"aggregate": [{"op": "max", "field": "hi", "as": "top"}], "groupby": ["pair", "p"]}], "mark": {"type": "text", "angle": 270, "align": "left", "baseline": "middle", "dx": 4, "fontSize": 10.5}, "encoding": {"y": {"field": "top", "type": "quantitative", "title": null}, "text": {"field": "p"}}}
          ]
        },
        {
          "title": {"text": "Cellular ROS", "anchor": "middle", "fontSize": 11, "offset": 2, "color": "#333333"},
          "width": 176, "height": 177,
          "data": {"name": "g"},
          "transform": [{"filter": "datum.assay == 'Cellular ROS'"}],
          "encoding": {"x": {"field": "pair", "type": "nominal", "sort": ["XPA-|XPA+", "GM969 shXPA|GM969 Scrm", "GM1652 shXPA|GM1652 Scrm", "SY5Y shXPA|SY5Y Scrm", "ATM-|ATM+", "GM969 shXPC|GM969 Scrm"], "scale": {"paddingInner": 0.3, "paddingOuter": 0.15}, "axis": {"title": null, "labelAngle": 270, "labelExpr": "split(datum.label, '|')", "ticks": false, "labelFontSize": 10.5, "labelLineHeight": 10, "labelPadding": 4}}},
          "layer": [
            {"mark": {"type": "bar"}, "encoding": {"xOffset": {"field": "m", "type": "nominal"}, "y": {"field": "v", "type": "quantitative", "title": null, "scale": {"domain": [0, 5]}, "axis": {"labels": false, "ticks": false, "domainDash": [5, 4], "domainColor": "#9aa6b2"}}, "color": {"field": "status", "type": "nominal", "scale": {"domain": ["XPA deficient", "ATM deficient", "XPC deficient", "WT XPA", "WT ATM", "WT XPC"], "range": ["#f20d0d", "#f47f7f", "#7030a0", "#0d0de8", "#1aa9ec", "#13a24f"]}, "legend": {"title": null, "orient": "none", "direction": "horizontal", "legendX": -7, "legendY": 286, "columns": 3, "symbolType": "square", "symbolSize": 150, "labelFontSize": 11.5, "columnPadding": 18, "rowPadding": 2}}}},
            {"mark": {"type": "rule", "color": "#333333", "strokeWidth": 1}, "encoding": {"xOffset": {"field": "m", "type": "nominal"}, "y": {"field": "lo", "type": "quantitative", "title": null}, "y2": {"field": "hi"}}},
            {"mark": {"type": "tick", "color": "#333333", "orient": "horizontal", "size": 6, "thickness": 1}, "encoding": {"xOffset": {"field": "m", "type": "nominal"}, "y": {"field": "hi", "type": "quantitative", "title": null}}},
            {"transform": [{"aggregate": [{"op": "max", "field": "hi", "as": "top"}], "groupby": ["pair", "p"]}], "mark": {"type": "text", "angle": 270, "align": "left", "baseline": "middle", "dx": 4, "fontSize": 10.5}, "encoding": {"y": {"field": "top", "type": "quantitative", "title": null}, "text": {"field": "p"}}}
          ]
        },
        {
          "title": {"text": "Mito. ROS", "anchor": "middle", "fontSize": 11, "offset": 2, "color": "#333333"},
          "width": 176, "height": 177,
          "data": {"name": "g"},
          "transform": [{"filter": "datum.assay == 'Mito. ROS'"}],
          "encoding": {"x": {"field": "pair", "type": "nominal", "sort": ["XPA-|XPA+", "GM969 shXPA|GM969 Scrm", "GM1652 shXPA|GM1652 Scrm", "SY5Y shXPA|SY5Y Scrm", "ATM-|ATM+", "GM969 shXPC|GM969 Scrm"], "scale": {"paddingInner": 0.3, "paddingOuter": 0.15}, "axis": {"title": null, "labelAngle": 270, "labelExpr": "split(datum.label, '|')", "ticks": false, "labelFontSize": 10.5, "labelLineHeight": 10, "labelPadding": 4}}},
          "layer": [
            {"mark": {"type": "bar"}, "encoding": {"xOffset": {"field": "m", "type": "nominal"}, "y": {"field": "v", "type": "quantitative", "title": null, "scale": {"domain": [0, 5]}, "axis": {"labels": false, "ticks": false, "domainDash": [5, 4], "domainColor": "#9aa6b2"}}, "color": {"field": "status", "type": "nominal", "scale": {"domain": ["XPA deficient", "ATM deficient", "XPC deficient", "WT XPA", "WT ATM", "WT XPC"], "range": ["#f20d0d", "#f47f7f", "#7030a0", "#0d0de8", "#1aa9ec", "#13a24f"]}, "legend": {"title": null, "orient": "none", "direction": "horizontal", "legendX": -7, "legendY": 286, "columns": 3, "symbolType": "square", "symbolSize": 150, "labelFontSize": 11.5, "columnPadding": 18, "rowPadding": 2}}}},
            {"mark": {"type": "rule", "color": "#333333", "strokeWidth": 1}, "encoding": {"xOffset": {"field": "m", "type": "nominal"}, "y": {"field": "lo", "type": "quantitative", "title": null}, "y2": {"field": "hi"}}},
            {"mark": {"type": "tick", "color": "#333333", "orient": "horizontal", "size": 6, "thickness": 1}, "encoding": {"xOffset": {"field": "m", "type": "nominal"}, "y": {"field": "hi", "type": "quantitative", "title": null}}},
            {"transform": [{"aggregate": [{"op": "max", "field": "hi", "as": "top"}], "groupby": ["pair", "p"]}], "mark": {"type": "text", "angle": 270, "align": "left", "baseline": "middle", "dx": 4, "fontSize": 10.5}, "encoding": {"y": {"field": "top", "type": "quantitative", "title": null}, "text": {"field": "p"}}}
          ]
        }
      ],
      "spacing": 6,
      "resolve": {"scale": {"color": "shared"}, "legend": {"color": "shared"}}
    }
  ],
  "columns": 1,
  "spacing": 30,
  "resolve": {"scale": {"color": "independent"}, "legend": {"color": "independent"}}
}
